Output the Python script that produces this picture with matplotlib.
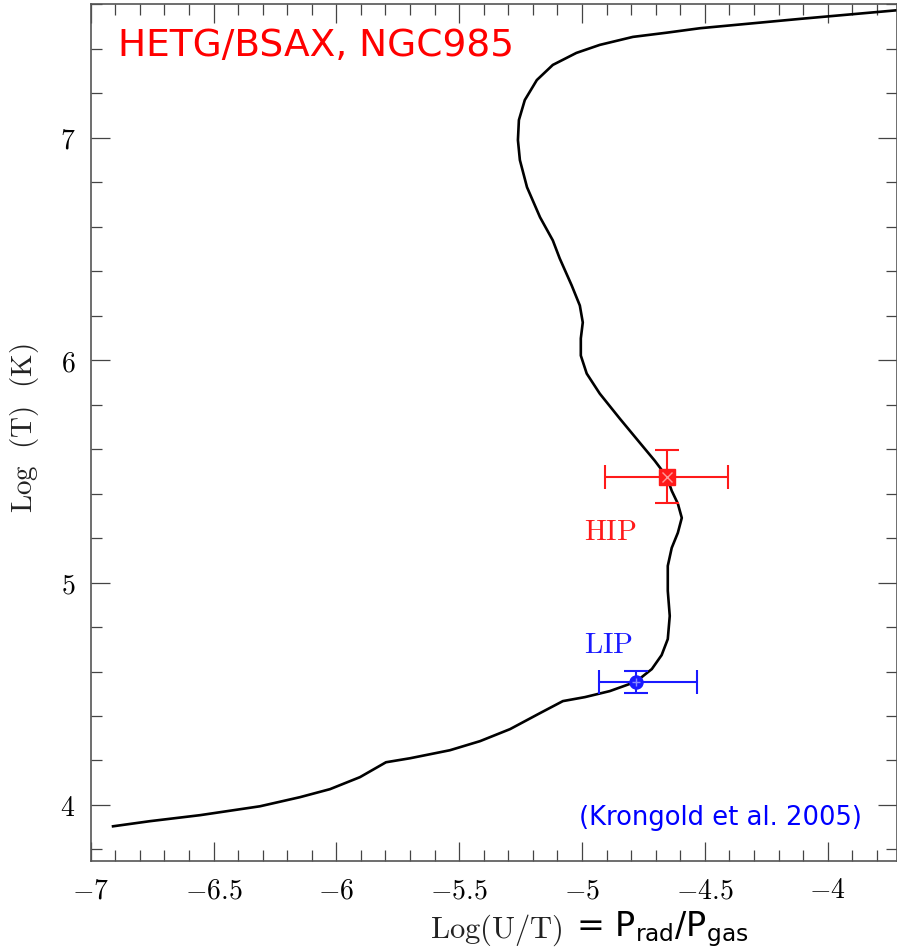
import matplotlib
matplotlib.use("Agg")
import matplotlib.pyplot as plt
from matplotlib import ticker

plt.rcParams['mathtext.fontset'] = 'cm'
plt.rcParams['font.family'] = ['DejaVu Sans']

# Thermal stability curve: log(U/T) vs log(T)
curve_logUT = [-6.909, -6.759, -6.555, -6.311, -6.148, -6.026, -5.904, -5.798,
               -5.700, -5.538, -5.415, -5.293, -5.171, -5.078, -4.988, -4.887,
               -4.781, -4.716, -4.676, -4.651, -4.643, -4.651, -4.651, -4.635,
               -4.610, -4.594, -4.610, -4.635, -4.655, -4.704, -4.765, -4.846,
               -4.928, -4.981, -5.005, -5.005, -4.997, -5.009, -5.042, -5.091,
               -5.119, -5.171, -5.224, -5.253, -5.261, -5.257, -5.233, -5.184,
               -5.119, -5.023, -4.928, -4.793, -4.655, -4.520, -4.113, -3.706]
curve_logT = [3.904, 3.927, 3.954, 3.994, 4.035, 4.071, 4.125, 4.192,
              4.210, 4.246, 4.287, 4.341, 4.413, 4.467, 4.485, 4.512,
              4.554, 4.611, 4.674, 4.746, 4.850, 4.963, 5.075, 5.156,
              5.224, 5.291, 5.355, 5.413, 5.476, 5.548, 5.629, 5.737,
              5.850, 5.940, 6.021, 6.098, 6.170, 6.246, 6.336, 6.458,
              6.539, 6.643, 6.778, 6.900, 6.990, 7.080, 7.170, 7.260,
              7.328, 7.382, 7.418, 7.454, 7.473, 7.493, 7.535, 7.575]

# Absorber components
hip_x, hip_y = -4.655, 5.476
hip_xerr, hip_yerr = 0.25, 0.12
lip_x, lip_y = -4.781, 4.554
lip_xerr_lo, lip_xerr_hi = 0.15, 0.25
lip_yerr = 0.05

x_major = [-7, -6.5, -6, -5.5, -5, -4.5, -4]
y_major = [4, 5, 6, 7]

fig = plt.figure(figsize=(8.97, 9.50), dpi=100)
ax = fig.add_axes([0.1011, 0.0937, 0.8989, 0.9021])

ax.plot(curve_logUT, curve_logT, color='black', lw=1.9, zorder=2,
        solid_joinstyle='round')

red = '#ff1a1a'
blue = '#1a1aff'
ax.errorbar([hip_x], [hip_y], xerr=[[hip_xerr], [hip_xerr]], yerr=[[hip_yerr], [hip_yerr]],
            fmt='s', color=red, ms=11.5, mfc=red, mec=red, elinewidth=1.5,
            capsize=8.3, capthick=1.5, zorder=3)
ax.plot([hip_x], [hip_y], marker='x', ms=7, color='#ff9a9a', mew=1.0, zorder=4)
ax.errorbar([lip_x], [lip_y], xerr=[[lip_xerr_lo], [lip_xerr_hi]], yerr=[[lip_yerr], [lip_yerr]],
            fmt='o', color=blue, ms=9.4, mfc=blue, mec=blue, elinewidth=1.5,
            capsize=8.3, capthick=1.5, zorder=3)
ax.plot([lip_x], [lip_y], marker='+', ms=6, color='#8a8aff', mew=1.0, zorder=4)

ax.text(-4.992, 5.191, r'$\mathrm{HIP}$', color=red, fontsize=21,
        math_fontfamily='cm', va='baseline', ha='left')
ax.text(-4.992, 4.685, r'$\mathrm{LIP}$', color=blue, fontsize=21,
        math_fontfamily='cm', va='baseline', ha='left')

ax.text(0.034, 0.939, 'HETG/BSAX, NGC985', transform=ax.transAxes, color='red',
        fontsize=27, va='baseline', ha='left')
ax.text(0.9566, 0.042, '(Krongold et al. 2005)', transform=ax.transAxes, color='blue',
        fontsize=18.6, va='baseline', ha='right')

ax.set_xlim(-7, -3.718)
ax.set_ylim(3.748, 7.602)

ax.xaxis.set_major_locator(ticker.FixedLocator(x_major))
ax.yaxis.set_major_locator(ticker.FixedLocator(y_major))
ax.xaxis.set_minor_locator(ticker.MultipleLocator(0.1))
ax.yaxis.set_minor_locator(ticker.MultipleLocator(0.2))
fmt = ticker.FuncFormatter(lambda v, p: f'${v:g}$')
ax.xaxis.set_major_formatter(fmt)
ax.yaxis.set_major_formatter(fmt)

ax.tick_params(which='both', direction='in', top=True, right=True, color='#444444', width=0.9)
ax.tick_params(which='major', length=14, labelsize=20, pad=11)
ax.tick_params(which='minor', length=8)
for s in ax.spines.values():
    s.set_color('#555555')
    s.set_linewidth(1.2)

ax.set_ylabel(r'$\mathrm{Log\ \ (T)\ \ (K)}$', fontsize=21, color='#222222')
ax.yaxis.set_label_coords(-0.062, 0.505)

# Axis title: serif part followed by the sans-serif pressure ratio
fig.text(430 / 897, 1 - 938 / 950, r'$\mathrm{Log(U/T)}$', fontsize=22,
         math_fontfamily='cm', va='baseline', ha='left', color='#222222')
fig.text(576 / 897, 1 - 936 / 950, r'= P$_{\mathregular{rad}}$/P$_{\mathregular{gas}}$',
         fontsize=24, math_fontfamily='dejavusans', va='baseline', ha='left')

fig.savefig('out.png', dpi=100)
